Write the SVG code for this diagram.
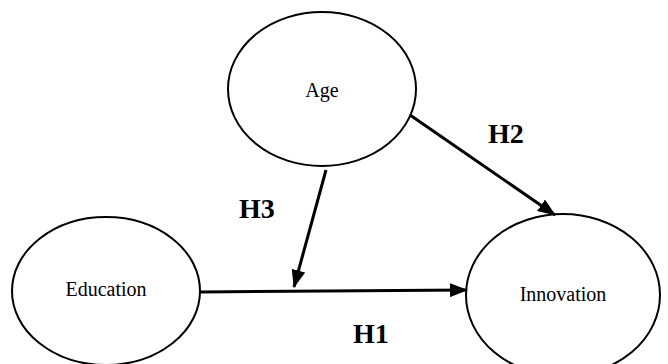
<svg xmlns="http://www.w3.org/2000/svg" width="668" height="364" viewBox="0 0 668 364">
<style>
.node{fill:#fff;stroke:#000;stroke-width:2}
.nt{font-family:"Liberation Serif",serif;font-size:20px;text-anchor:middle;fill:#000}
.hl{font-family:"Liberation Serif",serif;font-size:28px;font-weight:bold;fill:#000}
.edge{stroke:#000;stroke-width:3;fill:none}
</style>
<defs>
<marker id="ah" markerUnits="userSpaceOnUse" markerWidth="18" markerHeight="14" refX="17" refY="7" orient="auto">
<path d="M0,0 L18,7 L0,14 Z" fill="#000"/>
</marker>
</defs>
<rect width="668" height="364" fill="#fff"/>
<g id="age"><ellipse class="node" cx="322" cy="89" rx="94" ry="77"/><text class="nt" x="322" y="97">Age</text></g>
<g id="education"><ellipse class="node" cx="106" cy="291" rx="94" ry="74"/><text class="nt" x="106" y="296">Education</text></g>
<g id="innovation"><ellipse class="node" cx="563" cy="295" rx="97" ry="81"/><text class="nt" x="563" y="301">Innovation</text></g>
<g id="connectors">
<line class="edge" x1="200" y1="292" x2="467" y2="290" marker-end="url(#ah)"/>
<line class="edge" x1="326" y1="170" x2="294" y2="287" marker-end="url(#ah)"/>
<line class="edge" x1="410" y1="115" x2="555" y2="215" marker-end="url(#ah)"/>
</g>
<text class="hl" x="488" y="143">H2</text>
<text class="hl" x="239" y="218">H3</text>
<text class="hl" x="353" y="343">H1</text>
</svg>
